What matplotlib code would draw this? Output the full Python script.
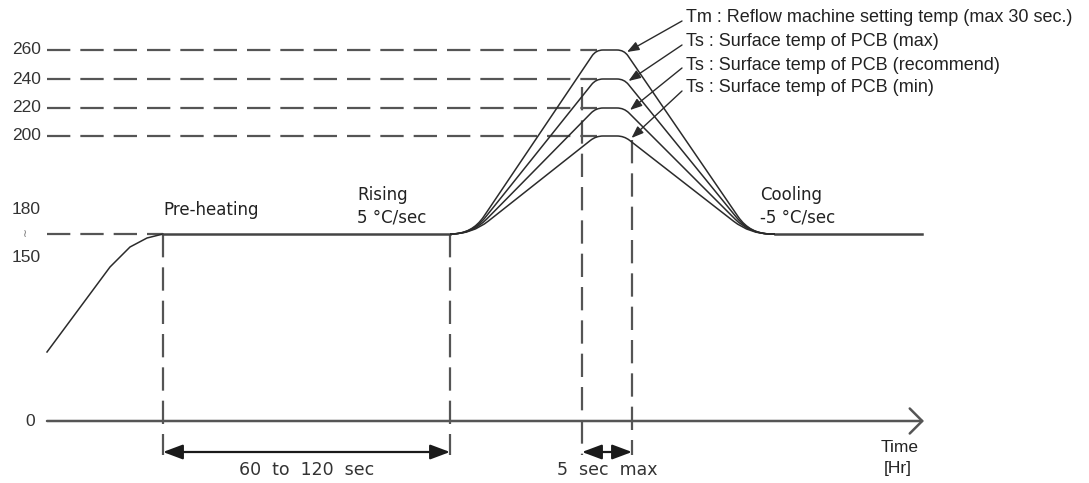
import numpy as np
import matplotlib.pyplot as plt
from matplotlib.path import Path
from matplotlib.patches import PathPatch

# y levels of the schematic (temperature label -> height above the time axis)
y_labels = ['0', '150', '180', '200', '220', '240', '260']
y_heights = [0, 163, 211, 285, 313, 342, 371]
plateau_h = 187  # the "~" level between 150 and 180

# peak temperatures of the four reflow curves
peak_temps = [260, 240, 220, 200]
peak_names = ['Tm : Reflow machine setting temp (max 30 sec.)',
              'Ts : Surface temp of PCB (max)',
              'Ts : Surface temp of PCB (recommend)',
              'Ts : Surface temp of PCB (min)']

# pre-heat ramp (time, height)
ramp_t = [0, 63, 83, 100, 116]
ramp_h = [69, 154, 174, 183, 187]

# key times
t_preheat = 116
t_rise = 403
t_peak_in = 549
t_peak_out = 577
t_cool = 728
t_end = 875
t_dwell_a = 535
t_dwell_b = 585

level = dict(zip([int(v) for v in y_labels], y_heights))

LINE = '#555555'
CURVE = '#2b2b2b'
TXT = '#222222'


def rounded_path(pts, radii):
    pts = np.asarray(pts, dtype=float)
    verts = [pts[0]]
    codes = [Path.MOVETO]
    for i in range(1, len(pts) - 1):
        p, a, b = pts[i], pts[i - 1], pts[i + 1]
        da = (a - p) / np.hypot(*(a - p))
        db = (b - p) / np.hypot(*(b - p))
        r = radii[i - 1]
        verts += [p + da * r, p, p + db * r]
        codes += [Path.LINETO, Path.CURVE3, Path.CURVE3]
    verts.append(pts[-1])
    codes.append(Path.LINETO)
    return Path(verts, codes)


fig = plt.figure(figsize=(10.89, 4.83), dpi=100)
ax = fig.add_axes([0, 0, 1, 1])
ax.set_xlim(-47, 1042)
ax.set_ylim(-62, 421)
ax.axis('off')

dash = (0, (10.5, 4.5))

# horizontal dashed guides for the peak temps
for T in peak_temps:
    ax.plot([0, 550], [level[T], level[T]], color=LINE, lw=1.6, ls=dash, zorder=1)
ax.plot([0, t_preheat], [plateau_h, plateau_h], color=LINE, lw=1.6, ls=dash, zorder=1)

# vertical dashed guides
ax.plot([t_preheat, t_preheat], [plateau_h, -34], color=LINE, lw=1.6, ls=dash)
ax.plot([t_rise, t_rise], [plateau_h, -34], color=LINE, lw=1.6, ls=dash)
ax.plot([t_dwell_a, t_dwell_a], [334, -34], color=LINE, lw=1.6, ls=dash)
ax.plot([t_dwell_b, t_dwell_b], [281, -34], color=LINE, lw=1.6, ls=dash)

# time axis
ax.annotate('', xy=(t_end + 2, 0), xytext=(0, 0),
            arrowprops=dict(arrowstyle='->,head_length=0.45,head_width=0.45',
                            color=LINE, lw=1.8, mutation_scale=20,
                            shrinkA=0, shrinkB=0))

# pre-heat ramp and plateaus
ax.plot(ramp_t, ramp_h, color=CURVE, lw=1.1, zorder=3)
ax.plot([t_preheat, t_rise], [plateau_h, plateau_h], color='#444444', lw=1.8, zorder=3)
ax.plot([t_cool, t_end], [plateau_h, plateau_h], color='#444444', lw=1.8, zorder=3)

# reflow curves
for T in peak_temps:
    h = level[T]
    pts = [(t_rise, plateau_h), (t_rise + 22, plateau_h), (t_peak_in, h),
           (t_peak_out, h), (t_cool - 25, plateau_h), (t_cool, plateau_h)]
    ax.add_patch(PathPatch(rounded_path(pts, [21, 7, 7, 21]), fill=False,
                           ec=CURVE, lw=1.1, zorder=3))

# labels with arrows pointing to peak ends
text_h = [403, 379, 356, 333]
for k, (T, name) in enumerate(zip(peak_temps, peak_names)):
    ax.text(639, text_h[k], name, fontsize=13, family='Liberation Sans',
            color=TXT, va='center', ha='left')
    ax.annotate('', xy=(t_peak_out + 3 + 1.5 * k, level[T] - 2),
                xytext=(635, text_h[k] - 3),
                arrowprops=dict(arrowstyle='-|>,head_length=0.8,head_width=0.3',
                                color=CURVE, lw=1.0, mutation_scale=9,
                                shrinkA=0, shrinkB=0))

# y tick labels
for lab, h in zip(y_labels, y_heights):
    ax.text(-12 if lab == '0' else -6, h, lab, fontsize=12.5,
            family='Liberation Sans', color='#333333', ha='right', va='center')
ax.text(-22, plateau_h, '\u2240', fontsize=8, color='#777777', ha='center', va='center')

# phase texts
ax.text(t_preheat, 211, 'Pre-heating', fontsize=12, color=TXT, va='center')
ax.text(310, 226, 'Rising', fontsize=12, color=TXT, va='center')
ax.text(310, 203, '5 \u00b0C/sec', fontsize=12, color=TXT, va='center')
ax.text(713, 226, 'Cooling', fontsize=12, color=TXT, va='center')
ax.text(713, 203, '-5 \u00b0C/sec', fontsize=12, color=TXT, va='center')

# duration arrows
for a, b in [(t_preheat, t_rise), (t_dwell_a, t_dwell_b)]:
    ax.annotate('', xy=(b, -31), xytext=(a, -31),
                arrowprops=dict(arrowstyle='<|-|>,head_length=1.2,head_width=0.45',
                                color='#1a1a1a', lw=1.6, mutation_scale=10,
                                shrinkA=0, shrinkB=0))
ax.text((t_preheat + t_rise) / 2, -49, '60  to  120  sec', fontsize=12.5,
        color='#333333', ha='center', va='center')
ax.text((t_dwell_a + t_dwell_b) / 2, -49, '5  sec  max', fontsize=12.5,
        color='#333333', ha='center', va='center')

ax.text(853, -26, 'Time', fontsize=12.5, family='Liberation Sans', color=TXT,
        ha='center', va='center')
ax.text(851, -47, '[Hr]', fontsize=12.5, family='Liberation Sans', color=TXT,
        ha='center', va='center')

fig.savefig('out.png', dpi=100)
